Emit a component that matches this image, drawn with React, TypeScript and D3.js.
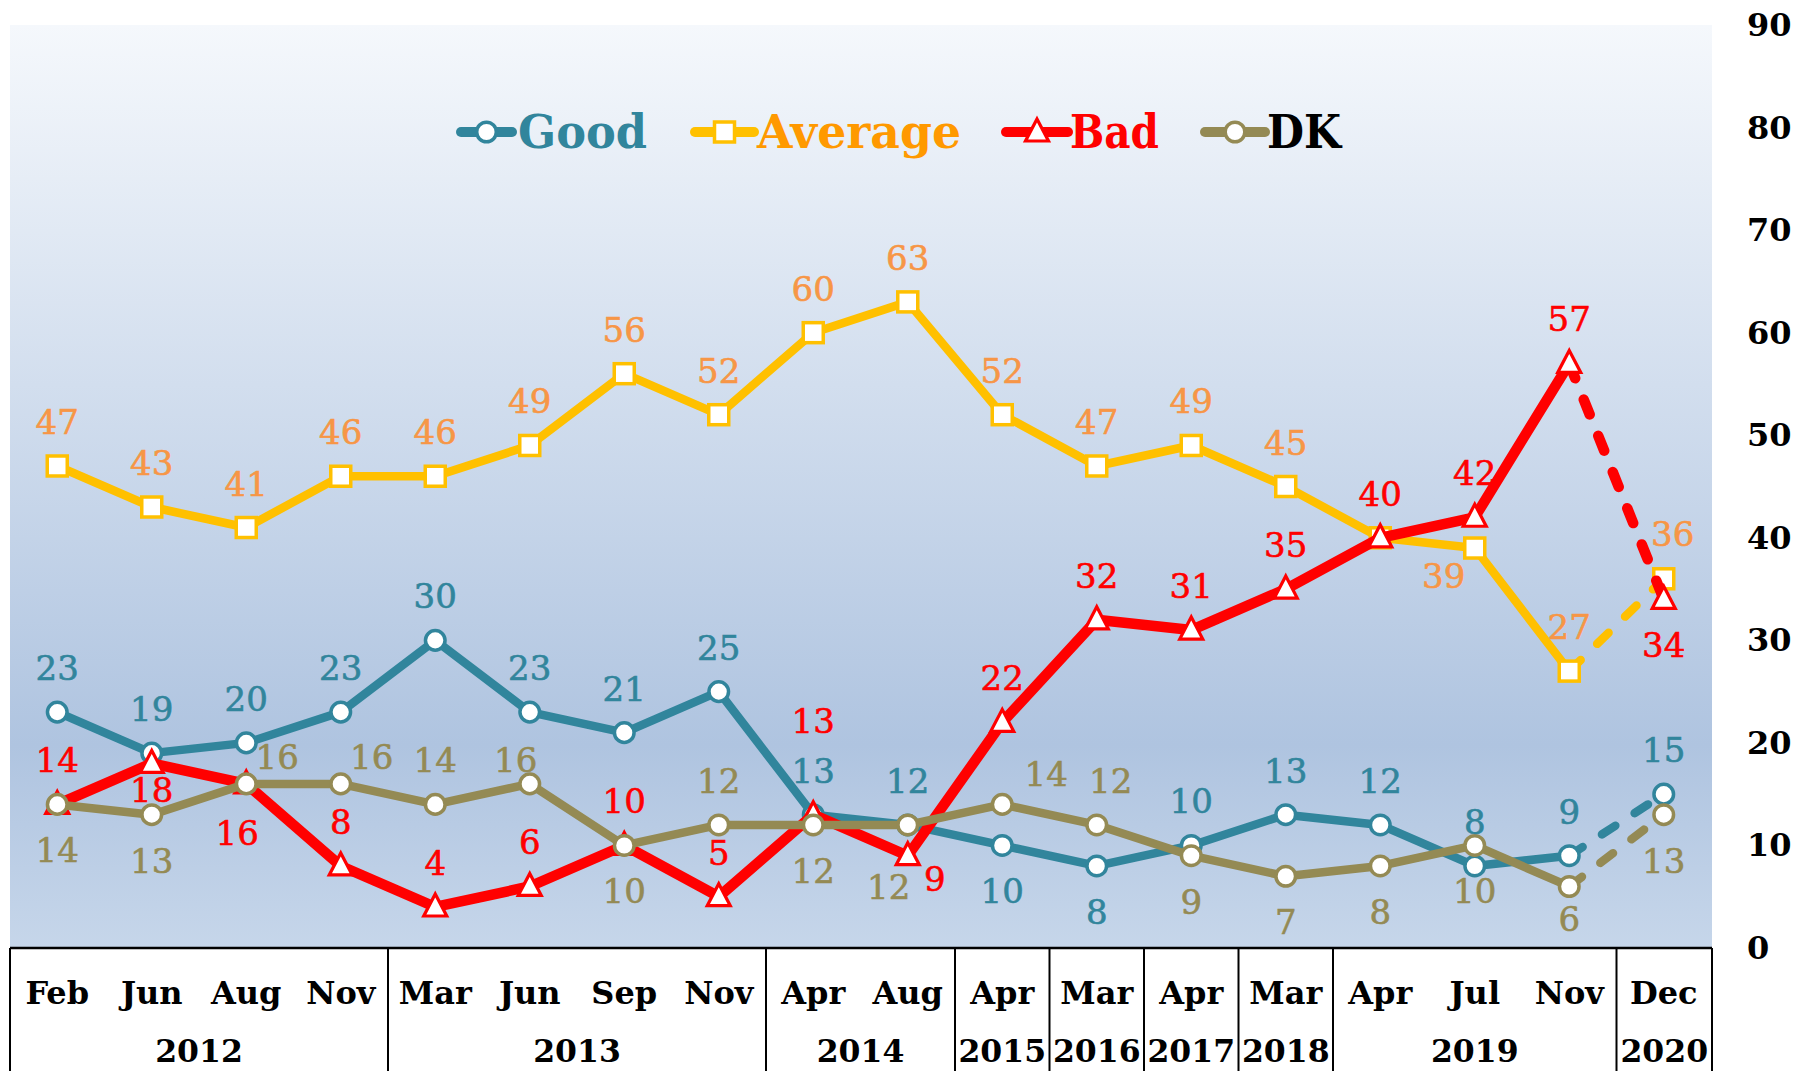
import React from "react";
import * as d3 from "d3";

const months = ["Feb","Jun","Aug","Nov","Mar","Jun","Sep","Nov","Apr","Aug","Apr","Mar","Apr","Mar","Apr","Jul","Nov","Dec"];
const yearGroups = [
  { year: "2012", count: 4 },
  { year: "2013", count: 4 },
  { year: "2014", count: 2 },
  { year: "2015", count: 1 },
  { year: "2016", count: 1 },
  { year: "2017", count: 1 },
  { year: "2018", count: 1 },
  { year: "2019", count: 3 },
  { year: "2020", count: 1 },
];
const good = [23,19,20,23,30,23,21,25,13,12,10,8,10,13,12,8,9,15];
const average = [47,43,41,46,46,49,56,52,60,63,52,47,49,45,40,39,27,36];
const bad = [14,18,16,8,4,6,10,5,13,9,22,32,31,35,40,42,57,34];
const dk = [14,13,16,16,14,16,10,12,12,12,14,12,9,7,8,10,6,13];
const yTicks = [0,10,20,30,40,50,60,70,80,90];

// label placement codes
const goodPos = ["a","a","a","a","a","a","a","a","a","a","b","b","a","a","a","a","a","a"];
const avgPos = ["a","a","a","a","a","a","a","a","a","a","a","a","a","a","none","lb","a","ar"];
const badPos = ["a","bn","bl","a","a","a","a","a","aa","rb","a","a","a","a","a","a","a","b"];
const dkPos = ["b","b","ra","ra","a","al","b","a","b","lbf","raf","ar2","b","b","b","b","bn2","b"];

const offsets: Record<string, [number, number]> = {
  a: [0, -44],
  b: [0, 46],
  bn: [0, 27],
  bn2: [0, 33],
  bl: [-9, 49],
  aa: [0, -94],
  rb: [27, 23],
  ra: [31, -27],
  al: [-14, -24],
  lbf: [-19, 62],
  raf: [44, -30],
  ar2: [14, -44],
  ar: [9, -45],
  lb: [-31, 28],
};

const FONT = "'DejaVu Serif', serif";

type Series = {
  name: string;
  values: number[];
  color: string;
  labelColor: string;
  legendColor: string;
  marker: "circle" | "square" | "triangle";
  pos: string[];
  width: number;
};

const series: Series[] = [
  { name: "Good", values: good, color: "#31859C", labelColor: "#31859C", legendColor: "#31859C", marker: "circle", pos: goodPos, width: 8.5 },
  { name: "Average", values: average, color: "#FFC000", labelColor: "#F79646", legendColor: "#FF9900", marker: "square", pos: avgPos, width: 8.5 },
  { name: "Bad", values: bad, color: "#FF0000", labelColor: "#FF0000", legendColor: "#FF0000", marker: "triangle", pos: badPos, width: 10.5 },
  { name: "DK", values: dk, color: "#948A54", labelColor: "#948A54", legendColor: "#000000", marker: "circle", pos: dkPos, width: 8.5 },
];

const legendLayout = [
  { x1: 461, x2: 512, tx: 518, tw: 129 },
  { x1: 695, x2: 754, tx: 757, tw: 204 },
  { x1: 1006, x2: 1068, tx: 1070, tw: 89 },
  { x1: 1205, x2: 1265, tx: 1267, tw: 74 },
];

function Marker({ type, x, y, color }: { type: string; x: number; y: number; color: string }) {
  if (type === "circle") {
    return <circle cx={x} cy={y} r={9.8} fill="#fff" stroke={color} strokeWidth={3.5} />;
  }
  if (type === "square") {
    return <rect x={x - 10} y={y - 10} width={20} height={20} fill="#fff" stroke={color} strokeWidth={3.5} />;
  }
  const p = `M${x},${y - 13}L${x + 11.5},${y + 9}L${x - 11.5},${y + 9}Z`;
  return <path d={p} fill="#fff" stroke={color} strokeWidth={3.2} strokeLinejoin="miter" />;
}

export default function App() {
  const W = 1808, H = 1071;
  const left = 10, right = 1711, top = 25, bottom = 948;
  const idx = months.map((_, i) => i);
  const x = d3.scaleBand<number>().domain(idx).range([left, right]).padding(0);
  const cx = (i: number) => (x(i) as number) + x.bandwidth() / 2;
  const y = d3.scaleLinear().domain([0, 90]).range([bottom, top]);
  const line = d3.line<number>().x((_, i) => cx(i)).y((d) => y(d));
  const n = months.length;

  const boundaries: number[] = [0];
  let acc = 0;
  yearGroups.forEach((g) => { acc += g.count; boundaries.push(acc); });

  return (
    <svg width={W} height={H} style={{ position: "absolute", left: 0, top: 0, background: "#fff" }} xmlns="http://www.w3.org/2000/svg">
      <defs>
        <linearGradient id="bg" x1="0" y1="0" x2="0" y2="1">
          <stop offset="0" stopColor="#F5F8FC" />
          <stop offset="0.78" stopColor="#AFC4E0" />
          <stop offset="1" stopColor="#C6D6EA" />
        </linearGradient>
      </defs>
      <rect x={left} y={top} width={right - left + 1} height={bottom - top} fill="url(#bg)" />

      {yTicks.map((t) => (
        <text key={t} x={1747} y={y(t) + 11} fontFamily={FONT} fontWeight="bold" fontSize={32} fill="#000">{t}</text>
      ))}

      {series.map((s, k) => {
        const L = legendLayout[k];
        const mx = (L.x1 + L.x2) / 2;
        return (
          <g key={s.name}>
            <line x1={L.x1} x2={L.x2} y1={132} y2={132} stroke={s.color} strokeWidth={10} strokeLinecap="round" />
            <Marker type={s.marker} x={mx} y={132} color={s.color} />
            <text x={L.tx} y={148} fontFamily={FONT} fontWeight="bold" fontSize={46} fill={s.legendColor} textLength={L.tw} lengthAdjust="spacingAndGlyphs">{s.name}</text>
          </g>
        );
      })}

      {series.map((s) => (
        <g key={s.name}>
          <path d={line(s.values.slice(0, n - 1)) || ""} fill="none" stroke={s.color} strokeWidth={s.width} strokeLinejoin="round" strokeLinecap="round" />
          <path d={`M${cx(n - 2)},${y(s.values[n - 2])}L${cx(n - 1)},${y(s.values[n - 1])}`} fill="none" stroke={s.color} strokeWidth={s.width} strokeDasharray="16 23" strokeLinecap="round" />
          {s.values.map((v, i) => (
            <Marker key={i} type={s.marker} x={cx(i)} y={y(v)} color={s.color} />
          ))}
        </g>
      ))}

      {series.map((s) => (
        <g key={s.name}>
          {s.values.map((v, i) => {
            const code = s.pos[i];
            if (code === "none") return null;
            const o = offsets[code];
            return (
              <text key={i} x={cx(i) + o[0]} y={y(v) + o[1] + 12} textAnchor="middle" fontFamily={FONT} fontSize={34} fill={s.labelColor} stroke={s.labelColor} strokeWidth={0.6}>{v}</text>
            );
          })}
        </g>
      ))}

      <line x1={left} x2={right + 1} y1={bottom} y2={bottom} stroke="#000" strokeWidth={2.5} />
      {boundaries.map((b, k) => {
        const bx = b === n ? right + 1 : (x(b) as number);
        return <line key={k} x1={bx} x2={bx} y1={bottom} y2={H} stroke="#000" strokeWidth={2} />;
      })}
      {months.map((m, i) => (
        <text key={i} x={cx(i)} y={1004} textAnchor="middle" fontFamily={FONT} fontWeight="bold" fontSize={32} fill="#000">{m}</text>
      ))}
      {yearGroups.map((g, k) => {
        const x0 = x(boundaries[k]) as number;
        const x1 = boundaries[k + 1] === n ? right + 1 : (x(boundaries[k + 1]) as number);
        return (
          <text key={g.year} x={(x0 + x1) / 2} y={1062} textAnchor="middle" fontFamily={FONT} fontWeight="bold" fontSize={31.5} fill="#000">{g.year}</text>
        );
      })}
    </svg>
  );
}
